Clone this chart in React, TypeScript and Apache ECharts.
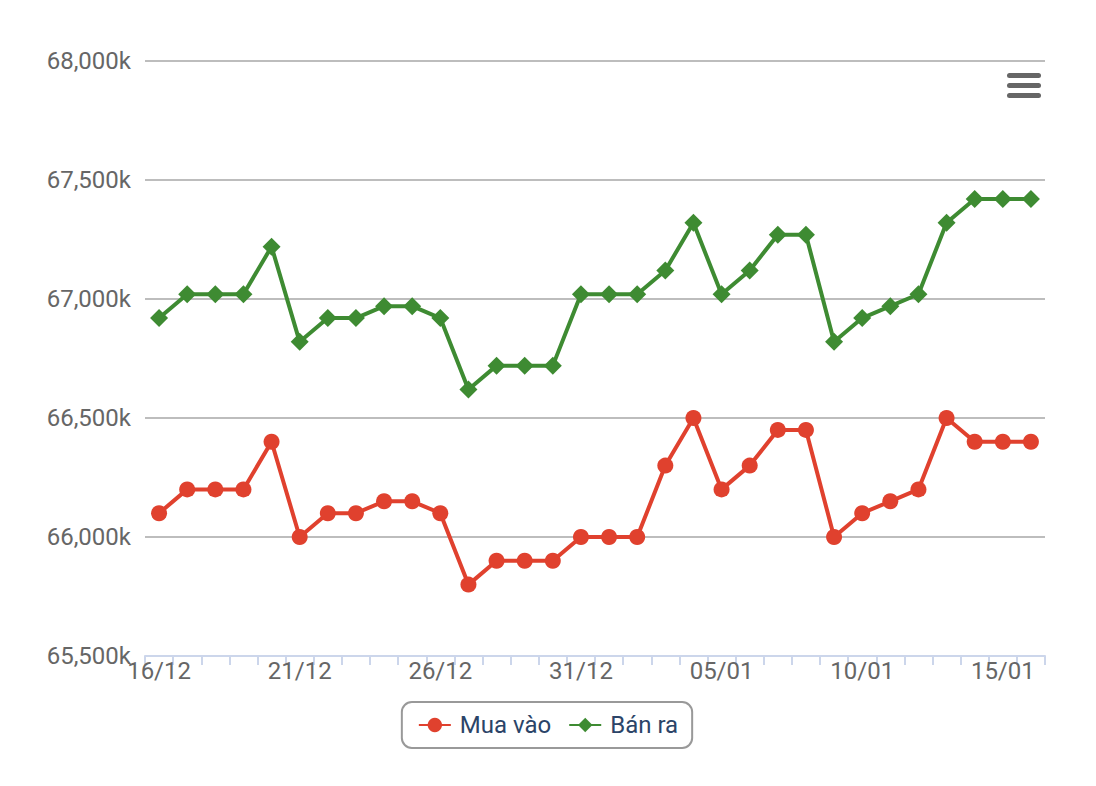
import React, { useEffect, useRef } from "react";
import * as echarts from "echarts";

const categories = [
  "16/12", "17/12", "18/12", "19/12", "20/12", "21/12", "22/12", "23/12",
  "24/12", "25/12", "26/12", "27/12", "28/12", "29/12", "30/12", "31/12",
  "01/01", "02/01", "03/01", "04/01", "05/01", "06/01", "07/01", "08/01",
  "09/01", "10/01", "11/01", "12/01", "13/01", "14/01", "15/01", "16/01",
];

const muaVao = [
  66100, 66200, 66200, 66200, 66400, 66000, 66100, 66100,
  66150, 66150, 66100, 65800, 65900, 65900, 65900, 66000,
  66000, 66000, 66300, 66500, 66200, 66300, 66450, 66450,
  66000, 66100, 66150, 66200, 66500, 66400, 66400, 66400,
];

const banRa = [
  66920, 67020, 67020, 67020, 67220, 66820, 66920, 66920,
  66970, 66970, 66920, 66620, 66720, 66720, 66720, 67020,
  67020, 67020, 67120, 67320, 67020, 67120, 67270, 67270,
  66820, 66920, 66970, 67020, 67320, 67420, 67420, 67420,
];

const seriesNames = ["Mua vào", "Bán ra"];

export default function App() {
  const ref = useRef<HTMLDivElement>(null);
  useEffect(() => {
    if (!ref.current) return;
    const chart = echarts.init(ref.current, undefined, { renderer: "svg" });
    const font = "Roboto";
    chart.setOption({
      animation: false,
      backgroundColor: "#ffffff",
      grid: { left: 145, right: 51, top: 61, bottom: 130, containLabel: false },
      xAxis: {
        type: "category",
        data: categories,
        boundaryGap: true,
        axisLine: { lineStyle: { color: "#ccd6eb", width: 2 } },
        axisTick: { show: true, interval: 0, length: 9, lineStyle: { color: "#ccd6eb", width: 2 } },
        axisLabel: { interval: 4, fontSize: 24, color: "#666666", fontFamily: font, margin: 3 },
        splitLine: { show: false },
      },
      yAxis: {
        type: "value",
        min: 65500,
        max: 68000,
        interval: 500,
        axisLine: { show: false },
        axisTick: { show: false },
        axisLabel: {
          fontSize: 24,
          color: "#666666",
          fontFamily: font,
          margin: 14,
          formatter: (v: number) => v.toLocaleString("en-US") + "k",
        },
        splitLine: { lineStyle: { color: "#bdbdbd", width: 2 } },
      },
      legend: {
        top: 702,
        left: "center",
        data: seriesNames,
        itemWidth: 32,
        itemHeight: 18,
        itemGap: 17,
        padding: [11, 14, 11, 16],
        borderColor: "#999999",
        borderWidth: 2,
        borderRadius: 10,
        textStyle: { fontSize: 24, color: "#2b4468", fontFamily: font, padding: [0, 0, 0, 4] },
      },
      graphic: [
        { type: "rect", shape: { x: 1007, y: 73, width: 34, height: 5, r: 2.5 }, style: { fill: "#666666" } },
        { type: "rect", shape: { x: 1007, y: 83, width: 34, height: 5, r: 2.5 }, style: { fill: "#666666" } },
        { type: "rect", shape: { x: 1007, y: 93, width: 34, height: 5, r: 2.5 }, style: { fill: "#666666" } },
      ],
      series: [
        {
          name: seriesNames[0],
          type: "line",
          data: muaVao,
          symbol: "circle",
          symbolSize: 16,
          color: "#e0412e",
          lineStyle: { width: 4, color: "#e0412e" },
          itemStyle: { color: "#e0412e" },
        },
        {
          name: seriesNames[1],
          type: "line",
          data: banRa,
          symbol: "diamond",
          symbolSize: 18,
          color: "#3e8b32",
          lineStyle: { width: 4, color: "#3e8b32" },
          itemStyle: { color: "#3e8b32" },
        },
      ],
    });
    return () => chart.dispose();
  }, []);
  return (
    <div
      ref={ref}
      style={{ position: "fixed", left: 0, top: 0, width: 1096, height: 786, background: "#fff" }}
    />
  );
}
